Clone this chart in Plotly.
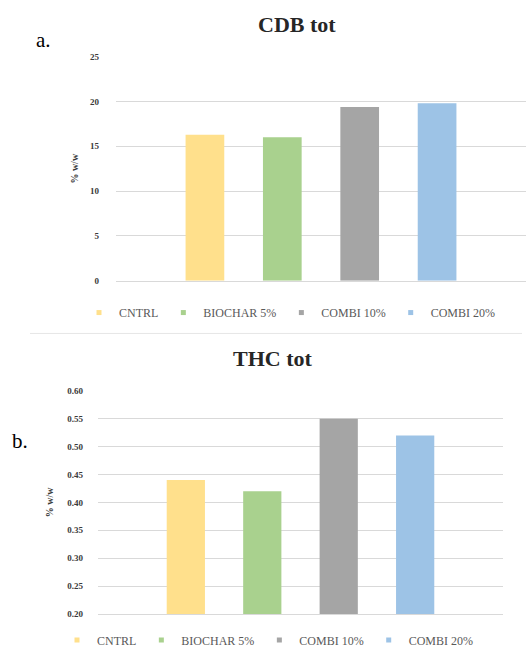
import plotly.graph_objects as go

# ---- data ----
series = ["CNTRL", "BIOCHAR 5%", "COMBI 10%", "COMBI 20%"]
colors = ["#FFE08C", "#A9D18E", "#A5A5A5", "#9DC3E6"]
cdb_values = [16.3, 16.0, 19.4, 19.8]
thc_values = [0.44, 0.42, 0.55, 0.52]
cdb_ticks = [0, 5, 10, 15, 20, 25]
thc_ticks = [0.20, 0.25, 0.30, 0.35, 0.40, 0.45, 0.50, 0.55, 0.60]

W, H = 526, 655
FONT = "Liberation Serif"

fig = go.Figure()

for name, col, v in zip(series, colors, cdb_values):
    fig.add_trace(go.Bar(x=["CDB tot"], y=[v], name=name, marker_color=col,
                         marker_line_width=0, offsetgroup=name,
                         xaxis="x", yaxis="y", showlegend=False))
    fig.add_trace(go.Scatter(x=[None], y=[None], mode="markers", name=name,
                             marker=dict(symbol="square", size=5, color=col),
                             xaxis="x", yaxis="y", legend="legend"))
for name, col, v in zip(series, colors, thc_values):
    fig.add_trace(go.Bar(x=["THC tot"], y=[v], name=name, marker_color=col,
                         marker_line_width=0, offsetgroup=name,
                         xaxis="x2", yaxis="y2", showlegend=False))
    fig.add_trace(go.Scatter(x=[None], y=[None], mode="markers", name=name,
                             marker=dict(symbol="square", size=5, color=col),
                             xaxis="x2", yaxis="y2", legend="legend2"))

def px_x(p):
    return p / W

def px_y(p):
    return 1 - p / H

grid = "#D9D9D9"
tickfont = dict(family=FONT, size=9, color="#3A3A3A", weight="bold")
titlefont = dict(family=FONT, size=10, color="#3A3A3A", weight="bold")
legfont = dict(family=FONT, size=12, color="#595959")

def ann(text, x, y, size, color, bold):
    return dict(text=f"<b>{text}</b>" if bold else text, x=px_x(x), y=px_y(y),
                xref="paper", yref="paper", xanchor="center", yanchor="middle",
                showarrow=False, font=dict(family=FONT, size=size, color=color))

fig.update_layout(
    template="none",
    width=W, height=H,
    margin=dict(l=0, r=0, t=0, b=0),
    paper_bgcolor="white", plot_bgcolor="white",
    barmode="group", bargap=0.245, bargroupgap=0.5,
    font=dict(family=FONT, color="#3A3A3A"),
    xaxis=dict(domain=[px_x(116), 1.0], anchor="y", showticklabels=False,
               showgrid=False, showline=True, linecolor=grid, linewidth=1,
               ticks="", fixedrange=True),
    yaxis=dict(domain=[px_y(282), px_y(57)], anchor="x", range=[0, 25],
               tickvals=cdb_ticks, ticktext=[str(t) for t in cdb_ticks],
               showgrid=True, gridcolor=grid, gridwidth=1, zeroline=False,
               showline=False, ticks="", tickfont=tickfont, ticklabelstandoff=16,
               title=dict(text="% w/w", font=titlefont, standoff=9)),
    xaxis2=dict(domain=[px_x(98), px_x(503)], anchor="y2", showticklabels=False,
                showgrid=False, showline=True, linecolor=grid, linewidth=1,
                ticks="", fixedrange=True),
    yaxis2=dict(domain=[px_y(616.7), px_y(392.7)], anchor="x2", range=[0.2, 0.6],
                tickvals=thc_ticks, ticktext=[f"{t:.2f}" for t in thc_ticks],
                showgrid=True, gridcolor=grid, gridwidth=1, zeroline=False,
                showline=False, ticks="", tickfont=tickfont, ticklabelstandoff=14,
                title=dict(text="% w/w", font=titlefont, standoff=11)),
    legend=dict(orientation="h", x=px_x(79), y=px_y(314), xanchor="left",
                yanchor="middle", font=legfont,
                bgcolor="rgba(0,0,0,0)", itemwidth=30, tracegroupgap=0),
    legend2=dict(orientation="h", x=px_x(57), y=px_y(643), xanchor="left",
                 yanchor="middle", font=legfont,
                 bgcolor="rgba(0,0,0,0)", itemwidth=30, tracegroupgap=0),
    annotations=[
        ann("CDB tot", 297, 25, 22, "#262626", True),
        ann("THC tot", 273, 360, 22, "#262626", True),
        ann("a.", 43, 40, 21, "black", False),
        ann("b.", 20, 443, 21, "black", False),
    ],
    shapes=[
        dict(type="line", xref="paper", yref="paper", x0=px_x(30), x1=px_x(522),
             y0=px_y(335), y1=px_y(335), line=dict(color="#E6E6E6", width=1)),
    ],
)

fig.write_html("out.html", config={"displayModeBar": False},
               post_script="document.body.style.margin='0';document.body.style.overflow='hidden';")
